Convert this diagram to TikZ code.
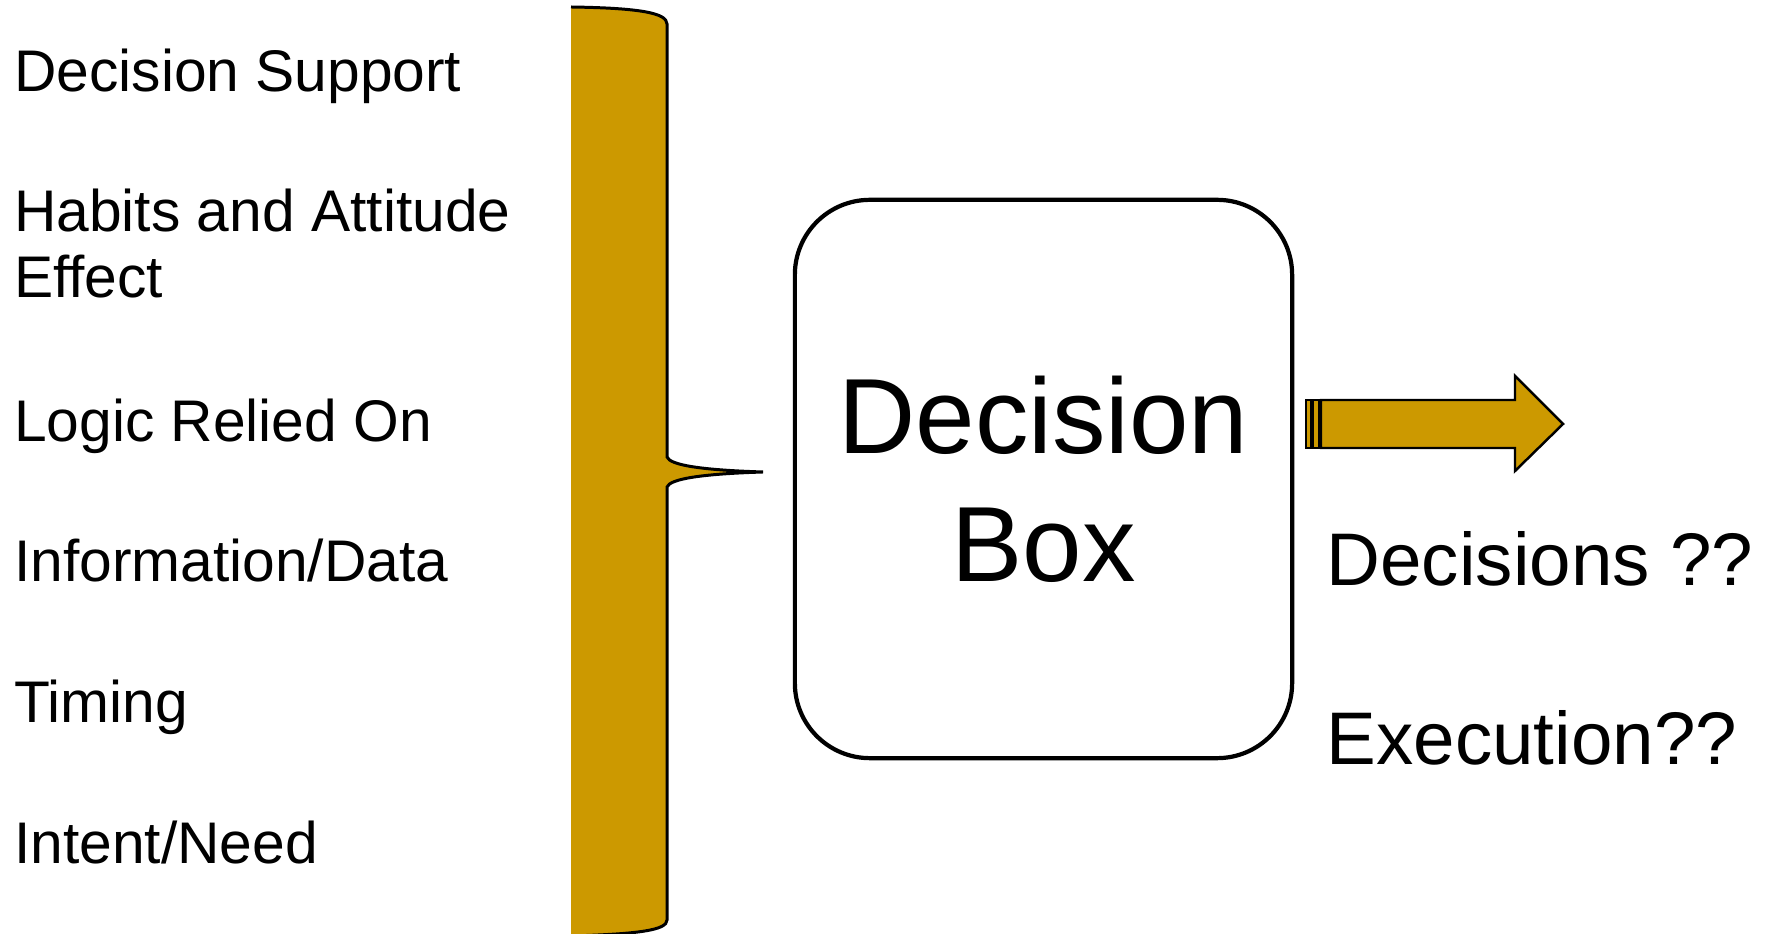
\documentclass[tikz,border=0pt]{standalone}
\usepackage{fontspec}
\setmainfont{Liberation Sans}
\usepackage{tikz}
\usetikzlibrary{positioning}
\definecolor{braceGold}{RGB}{204,153,0}

\begin{document}
\begin{tikzpicture}[x=0.01cm, y=-0.01cm,
    factor/.style={anchor=base west, inner sep=0, font=\fontsize{16.7}{18.8}\selectfont, align=left},
    outcome/.style={anchor=base west, inner sep=0, font=\fontsize{21.2}{25}\selectfont}]
      \useasboundingbox (0, 0) rectangle (1766, 934);
      % Factors on the left
      \node[factor] (support) at (13.5, 92) {Decision Support};
      \node[factor] (habits) at (13.5, 298) {Habits and Attitude\\Effect};
      \node[factor] (logic) at (13.5, 442) {Logic Relied On};
      \node[factor] (info) at (13.5, 582) {Information/Data};
      \node[factor] (timing) at (13.5, 723) {Timing};
      \node[factor] (intent) at (13.5, 864) {Intent/Need};
      % Brace gathering them
      \fill[braceGold] (571, 7) .. controls (640, 8) and (667, 13) .. (667, 24)
        -- (667, 457) .. controls (670, 465) and (700, 470) .. (763, 472)
        .. controls (700, 474) and (670, 479) .. (667, 487)
        -- (667, 920) .. controls (667, 930) and (640, 934) .. (571, 936) -- cycle;
      \draw[line width=0.85pt] (571, 7) .. controls (640, 8) and (667, 13) .. (667, 24)
        -- (667, 457) .. controls (670, 465) and (700, 470) .. (763, 472)
        .. controls (700, 474) and (670, 479) .. (667, 487)
        -- (667, 920) .. controls (667, 930) and (640, 934) .. (571, 936);
      % Decision box
      \node[draw, line width=1.2pt, rounded corners=0.75cm, minimum width=4.97cm, minimum height=5.58cm,
        align=center, font=\fontsize{30.4}{36.4}\selectfont] (dbox) at (1043.5, 479) {Decision\\Box};
      % Output arrow with its tail bars
      \draw[fill=braceGold, line width=0.7pt] (1306, 400) rectangle (1311, 448);
      \draw[fill=braceGold, line width=0.7pt] (1313, 400) rectangle (1319, 448);
      \draw[fill=braceGold, line width=0.7pt] (1321, 400) -- (1515, 400) -- (1515, 376) -- (1563, 424)
        -- (1515, 471) -- (1515, 448) -- (1321, 448) -- cycle;
      % Outcomes
      \node[outcome] (decisions) at (1326, 586) {Decisions ??};
      \node[outcome] (execution) at (1326, 765) {Execution??};
\end{tikzpicture}
\end{document}
